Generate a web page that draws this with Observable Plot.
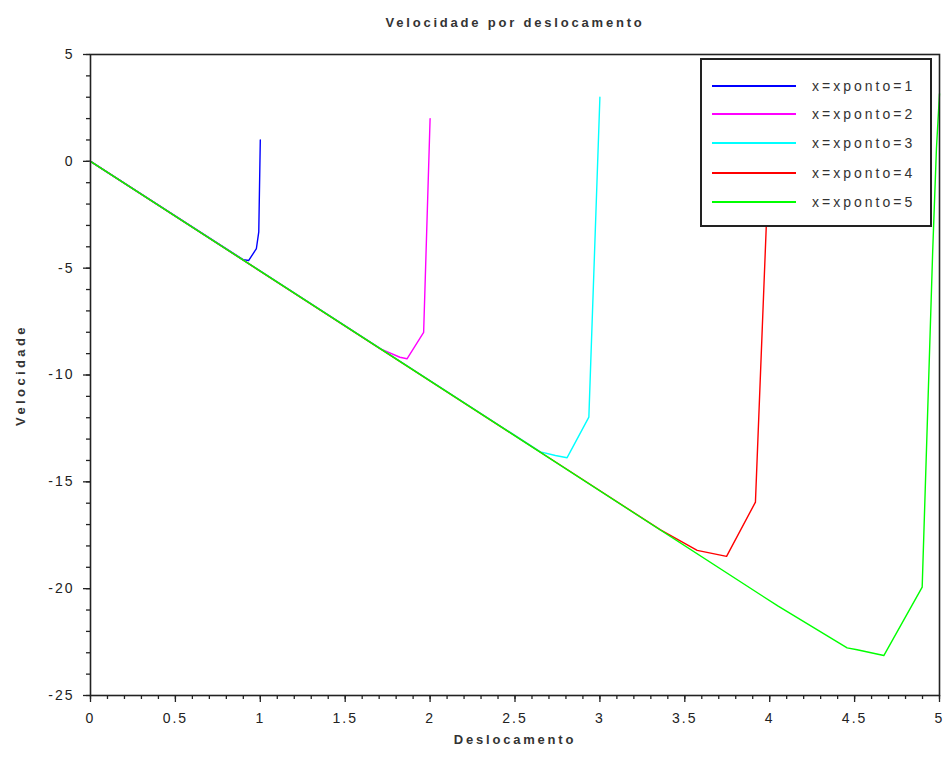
<!DOCTYPE html>
<html>
<head>
<meta charset="utf-8">
<script src="https://cdn.jsdelivr.net/npm/d3@7"></script>
<script src="https://cdn.jsdelivr.net/npm/@observablehq/plot@0.6"></script>
<style>
  html, body { margin: 0; padding: 0; background: #fff; }
  #wrap { position: relative; width: 949px; height: 771px; font-family: "Liberation Sans", Arial, sans-serif; }
  #legend { position: absolute; left: 700px; top: 58px; width: 228px; height: 165px; border: 2px solid #222; background: #fff; box-sizing: content-box; }
  .row { position: absolute; left: 0; height: 20px; width: 228px; }
  .sw { position: absolute; left: 10px; width: 84px; top: 9px; height: 0; border-top: 2px solid; }
  .lab { position: absolute; left: 110px; top: 0; font-size: 14px; line-height: 20px; color: #333; letter-spacing: 3px; }
  svg text { letter-spacing: 2px; }
</style>
</head>
<body>
<div id="wrap"><div id="chart"></div><div id="legend"></div></div>
<script>
// Series names and colours
const seriesNames = ["x=xponto=1", "x=xponto=2", "x=xponto=3", "x=xponto=4", "x=xponto=5"];
const seriesColors = ["#0000ff", "#ff00ff", "#00ffff", "#ff0000", "#00ff00"];

// Displacement (x) and velocity (v)
const x1 = [0, 0.899, 0.932, 0.977, 0.991, 1.0];
const v1 = [0, -4.60, -4.64, -4.08, -3.30, 1.0];
const x2 = [0, 1.708, 1.822, 1.864, 1.962, 2.0];
const v2 = [0, -8.78, -9.17, -9.24, -8.00, 2.0];
const x3 = [0, 2.65, 2.738, 2.807, 2.935, 3.0];
const v3 = [0, -13.60, -13.77, -13.87, -11.97, 3.0];
const x4 = [0, 3.357, 3.573, 3.746, 3.916, 3.98, 4.0];
const v4 = [0, -17.25, -18.21, -18.49, -15.95, -3.0, 4.0];
const x5 = [0, 4.05, 4.456, 4.515, 4.672, 4.898, 4.96, 4.982, 5.0];
const v5 = [0, -20.82, -22.77, -22.86, -23.13, -19.93, -4.18, 0.6, 3.16];

// Axis ticks
const xMajor = [0, 0.5, 1, 1.5, 2, 2.5, 3, 3.5, 4, 4.5, 5];
const xMinor = d3.range(0, 51).map(i => i / 10);
const yMajor = [-25, -20, -15, -10, -5, 0, 5];
const yMinor = d3.range(-25, 6);

const xs = [x1, x2, x3, x4, x5];
const vs = [v1, v2, v3, v4, v5];
const data = [];
xs.forEach((arr, s) => arr.forEach((xv, i) => data.push({s: seriesNames[s], x: xv, v: vs[s][i]})));

const font = "'Liberation Sans', Arial, sans-serif";
const chart = Plot.plot({
  width: 949,
  height: 771,
  marginLeft: 90,
  marginRight: 10,
  marginTop: 54,
  marginBottom: 76,
  style: {fontFamily: font, background: "#fff", color: "#222"},
  x: {domain: [0, 5], label: null},
  y: {domain: [-25, 5], label: null},
  marks: [
    Plot.axisX({ticks: xMinor, tickSize: 4, text: null, stroke: "#222", strokeWidth: 1.3, label: null}),
    Plot.axisX({ticks: xMajor, tickSize: 7, tickPadding: 11, tickFormat: d => String(d), fontSize: 14, fill: "#222", stroke: "#222", strokeWidth: 1.3, label: null}),
    Plot.axisY({ticks: yMinor, tickSize: 4, text: null, stroke: "#222", strokeWidth: 1.3, label: null}),
    Plot.axisY({ticks: yMajor, tickSize: 7, tickPadding: 9, tickFormat: d => String(d), fontSize: 14, fill: "#222", stroke: "#222", strokeWidth: 1.3, label: null}),
    ...seriesNames.map((name, i) =>
      Plot.line(data.filter(d => d.s === name), {x: "x", y: "v", stroke: seriesColors[i], strokeWidth: 1.4})
    ),
    Plot.frame({stroke: "#222", strokeWidth: 1.6}),
    Plot.text(["Velocidade por deslocamento"], {frameAnchor: "top", lineAnchor: "middle", textAnchor: "middle", dy: -32, fontSize: 13, fontWeight: "bold", fill: "#333", fontFamily: font}),
    Plot.text(["Deslocamento"], {frameAnchor: "bottom", lineAnchor: "middle", textAnchor: "middle", dy: 44, fontSize: 13, fontWeight: "bold", fill: "#333", fontFamily: font}),
    Plot.text(["Velocidade"], {frameAnchor: "left", lineAnchor: "middle", textAnchor: "middle", dx: -70, rotate: -90, fontSize: 13, fontWeight: "bold", fill: "#333", fontFamily: font})
  ]
});
document.getElementById("chart").appendChild(chart);

// Letter spacing like the reference
chart.querySelectorAll("text").forEach(t => {
  const txt = t.textContent;
  if (txt === "Velocidade por deslocamento" || txt === "Deslocamento") {
    t.style.letterSpacing = "2.8px";
  } else if (txt === "Velocidade") {
    t.style.letterSpacing = "3.4px";
  }
});

// Legend
const legend = document.getElementById("legend");
const rowTops = [16, 44, 73, 103, 132];
seriesNames.forEach((name, i) => {
  const row = document.createElement("div");
  row.className = "row";
  row.style.top = rowTops[i] + "px";
  const sw = document.createElement("div");
  sw.className = "sw";
  sw.style.borderTopColor = seriesColors[i];
  const lab = document.createElement("div");
  lab.className = "lab";
  lab.textContent = name;
  row.appendChild(sw);
  row.appendChild(lab);
  legend.appendChild(row);
});
</script>
</body>
</html>
